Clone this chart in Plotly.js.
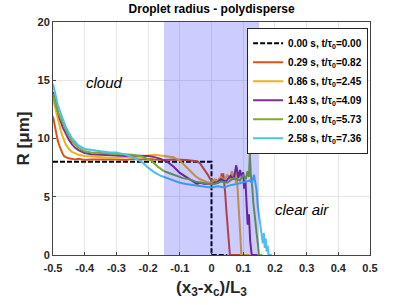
<!DOCTYPE html>
<html><head><meta charset="utf-8">
<script src="https://cdn.plot.ly/plotly-3.0.1.min.js"></script>
<style>html,body{margin:0;padding:0;background:#fff}#c{width:407px;height:305px}</style>
</head><body><div id="c"></div>
<script>
var seriesNames = ['0.00 s, t/&#964;<sub>0</sub>=0.00','0.29 s, t/&#964;<sub>0</sub>=0.82','0.86 s, t/&#964;<sub>0</sub>=2.45','1.43 s, t/&#964;<sub>0</sub>=4.09','2.00 s, t/&#964;<sub>0</sub>=5.73','2.58 s, t/&#964;<sub>0</sub>=7.36'];
var colors = ['#000000','#D95319','#EDB120','#7E2F8E','#77AC30','#4DBEEE'];

var bx = [-0.5,-0.4,-0.3,-0.2,-0.1,0,0,0.05];
var by = [8.0,8.0,8.0,8.0,8.0,8.0,0,0];

var rx = [-0.5,-0.495,-0.49,-0.485,-0.48,-0.475,-0.47,-0.465,-0.46,-0.45,-0.44,-0.43,-0.42,-0.4,-0.38,-0.35,-0.32,-0.3,-0.27,-0.25,-0.22,-0.2,-0.18,-0.15,-0.12,-0.1,-0.08,-0.06,-0.045,-0.036,-0.028,-0.02,-0.012,-0.005,0.003,0.011,0.016,0.021,0.025,0.029,0.032,0.035,0.037,0.04,0.043,0.047,0.051,0.055,0.058,0.09];
var ry = [11.9,11.2,10.4,9.8,9.4,9.0,8.7,8.5,8.4,8.3,8.25,8.2,8.25,8.15,8.2,8.2,8.25,8.2,8.15,8.25,8.2,8.25,8.2,8.15,8.2,8.2,8.15,8.1,8.05,7.85,7.55,7.25,6.9,6.55,6.35,6.2,6.4,6.15,6.6,6.3,7.0,6.5,7.0,6.3,5.4,3.8,2.3,1.0,0,0];

var ox = [-0.5,-0.495,-0.49,-0.485,-0.48,-0.475,-0.47,-0.465,-0.46,-0.455,-0.45,-0.44,-0.43,-0.42,-0.4,-0.38,-0.35,-0.32,-0.3,-0.27,-0.25,-0.22,-0.2,-0.18,-0.16,-0.14,-0.12,-0.1,-0.085,-0.068,-0.052,-0.036,-0.024,-0.013,0,0.01,0.02,0.03,0.04,0.05,0.058,0.064,0.07,0.074,0.077,0.079,0.082,0.085,0.088,0.091,0.094,0.12];
var oy = [13.4,12.8,12.2,11.6,11.1,10.6,10.2,9.8,9.5,9.3,9.1,8.85,8.7,8.6,8.5,8.45,8.4,8.35,8.35,8.4,8.35,8.5,8.55,8.6,8.55,8.5,8.4,8.1,7.7,7.2,6.8,6.5,6.35,6.25,6.2,6.5,6.3,6.7,6.4,6.9,6.5,7.2,6.6,7.0,6.2,7.55,5.8,4.6,3.2,1.7,0,0];

var qx = [-0.5,-0.495,-0.49,-0.485,-0.48,-0.47,-0.46,-0.45,-0.44,-0.43,-0.42,-0.4,-0.38,-0.35,-0.32,-0.3,-0.27,-0.25,-0.22,-0.2,-0.18,-0.16,-0.14,-0.12,-0.1,-0.08,-0.06,-0.046,-0.036,-0.02,0,0.016,0.03,0.045,0.06,0.07,0.078,0.085,0.09,0.095,0.1,0.103,0.107,0.11,0.114,0.118,0.122,0.127,0.145];
var qy = [14.0,13.4,12.8,12.3,11.8,11.0,10.4,9.9,9.5,9.2,9.0,8.75,8.65,8.6,8.55,8.55,8.5,8.55,8.5,8.5,8.4,8.25,8.0,7.6,7.05,6.7,6.4,6.1,6.2,6.1,6.1,6.2,6.5,6.3,6.8,6.5,7.7,6.6,7.3,6.7,7.1,5.7,6.4,4.0,2.6,3.5,1.2,0,0];

var gx = [-0.5,-0.495,-0.49,-0.485,-0.48,-0.47,-0.46,-0.45,-0.44,-0.43,-0.42,-0.4,-0.38,-0.35,-0.32,-0.3,-0.27,-0.25,-0.22,-0.2,-0.19,-0.17,-0.15,-0.13,-0.11,-0.09,-0.07,-0.05,-0.03,-0.01,0.01,0.03,0.05,0.07,0.09,0.1,0.108,0.114,0.118,0.121,0.124,0.128,0.132,0.136,0.14,0.143,0.147,0.15,0.16];
var gy = [13.8,13.2,12.7,12.3,12.0,11.3,10.7,10.2,9.8,9.5,9.2,8.9,8.8,8.75,8.7,8.7,8.65,8.6,8.45,8.2,8.1,7.6,7.2,7.0,6.8,6.6,6.5,6.3,6.2,6.1,6.1,6.3,6.2,6.6,6.4,6.9,6.5,7.2,6.7,8.7,6.9,6.0,4.5,3.3,2.5,1.7,0.8,0,0];

var cx = [-0.5,-0.495,-0.49,-0.485,-0.48,-0.47,-0.46,-0.45,-0.44,-0.43,-0.42,-0.4,-0.38,-0.35,-0.32,-0.3,-0.27,-0.25,-0.22,-0.2,-0.18,-0.16,-0.14,-0.12,-0.1,-0.08,-0.06,-0.04,-0.02,0,0.02,0.04,0.06,0.08,0.1,0.11,0.12,0.128,0.134,0.138,0.142,0.146,0.15,0.154,0.158,0.162,0.165,0.168,0.171,0.174,0.177,0.18,0.19];
var cy = [14.7,14.0,13.4,12.9,12.5,11.7,11.0,10.5,10.0,9.7,9.4,9.1,9.0,8.9,8.8,8.8,8.6,8.4,8.0,7.5,7.1,6.8,6.6,6.4,6.2,6.1,6.0,5.9,5.85,5.8,5.9,5.8,6.0,6.1,6.2,6.3,6.4,6.2,6.9,6.3,5.6,4.2,3.1,2.6,1.7,1.0,1.9,0.6,1.4,0.3,0.8,0,0];

var xTicks = [-0.5,-0.4,-0.3,-0.2,-0.1,0,0.1,0.2,0.3,0.4,0.5];
var yTicks = [0,5,10,15,20];
var shadeRange = [-0.15, 0.15];

var xs = [bx,rx,ox,qx,gx,cx];
var ys = [by,ry,oy,qy,gy,cy];
var traces = xs.map(function(x,i){
  return {x:x, y:ys[i], type:'scatter', mode:'lines', name:'<b>'+seriesNames[i]+'</b>',
    line:{color:colors[i], width:2, dash: i===0 ? '5px,2px' : 'solid'}};
});

var F = 'Liberation Sans, Arial, sans-serif';
var layout = {
  width:407, height:305,
  margin:{l:53, r:37, t:22, b:50},
  paper_bgcolor:'#fff', plot_bgcolor:'#fff',
  showlegend:true,
  title:{text:'<b>Droplet radius - polydisperse</b>', font:{family:F, size:12, color:'#000'}, x:0.52, xanchor:'center', y:0.985, yanchor:'top'},
  xaxis:{range:[-0.5,0.5], tickvals:xTicks, ticktext:xTicks.map(function(v){return '<b>'+(v===0?'0':v.toFixed(1))+'</b>';}),
    showgrid:true, gridcolor:'#e6e6e6', zeroline:false, showline:true, linecolor:'#444', linewidth:1, mirror:true,
    ticks:'inside', ticklen:3, tickcolor:'#444', tickfont:{family:F, size:11, color:'#262626'}, ticklabelstandoff:3,
    title:{text:'<b>(x<sub>3</sub>-x<sub>c</sub>)/L<sub>3</sub></b>', font:{family:F, size:17, color:'#262626'}, standoff:7}},
  yaxis:{range:[0,20], tickvals:yTicks, ticktext:yTicks.map(function(v){return '<b>'+v+'</b>';}),
    showgrid:true, gridcolor:'#e6e6e6', zeroline:false, showline:true, linecolor:'#444', linewidth:1, mirror:true,
    ticks:'inside', ticklen:3, tickcolor:'#444', tickfont:{family:F, size:11, color:'#262626'},
    title:{text:'<b>R [\u03bcm]</b>', font:{family:F, size:17, color:'#262626'}, standoff:3}},
  legend:{x:0.994, xanchor:'right', y:0.975, yanchor:'top', bgcolor:'#fff', bordercolor:'#262626', borderwidth:1,
    font:{family:F, size:10, color:'#000'}, tracegroupgap:0, itemwidth:30},
  shapes:[{type:'rect', xref:'x', yref:'paper', x0:shadeRange[0], x1:shadeRange[1], y0:0, y1:1,
    fillcolor:'rgba(0,0,255,0.2)', line:{width:0}, layer:'above'}],
  annotations:[
    {x:-0.339, y:14.8, xref:'x', yref:'y', text:'<i>cloud</i>', showarrow:false, font:{family:F, size:15, color:'#000'}},
    {x:0.195, y:3.9, xref:'x', yref:'y', xanchor:'left', text:'<i>clear air</i>', showarrow:false, font:{family:F, size:15, color:'#000'}}
  ]
};
Plotly.newPlot('c', traces, layout, {staticPlot:true, displayModeBar:false});
</script></body></html>
